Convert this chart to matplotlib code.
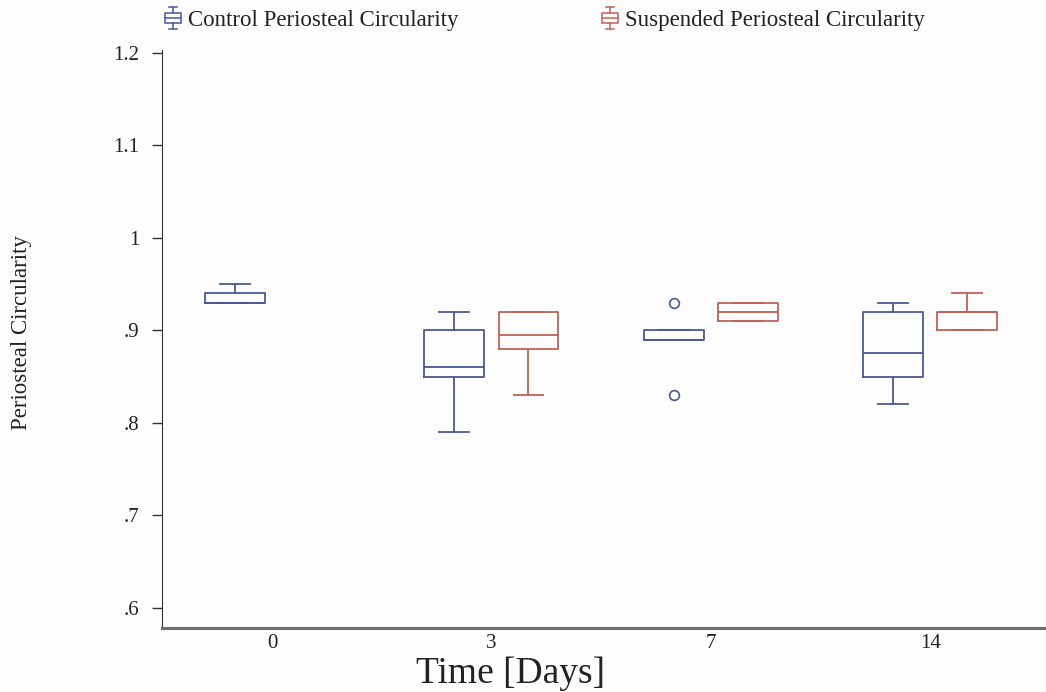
import matplotlib
matplotlib.use("Agg")
import matplotlib.pyplot as plt
from matplotlib.legend_handler import HandlerBase
from matplotlib.lines import Line2D
from matplotlib.patches import Rectangle

plt.rcParams['font.family'] = ['Liberation Serif', 'DejaVu Serif']

days = ['0', '3', '7', '14']
# five-number summaries per day: (whislo, q1, med, q3, whishi)
control_stats = [
    (0.93, 0.93, 0.93, 0.94, 0.95),
    (0.79, 0.85, 0.86, 0.90, 0.92),
    (0.89, 0.89, 0.89, 0.90, 0.90),
    (0.82, 0.85, 0.875, 0.92, 0.93),
]
control_fliers = [[], [], [0.93, 0.83], []]
suspended_stats = [
    None,
    (0.83, 0.88, 0.895, 0.92, 0.92),
    (0.91, 0.91, 0.92, 0.93, 0.93),
    (0.90, 0.90, 0.92, 0.92, 0.94),
]
suspended_fliers = [[], [], [], []]

yticks = [0.6, 0.7, 0.8, 0.9, 1.0, 1.1, 1.2]
ytick_labels = ['.6', '.7', '.8', '.9', '1', '1.1', '1.2']

blue = '#4b5896'
red = '#c0605a'


def to_bxp(stats, fliers):
    out = []
    for s, f in zip(stats, fliers):
        if s is None:
            out.append(None)
            continue
        lo, q1, med, q3, hi = s
        out.append(dict(whislo=lo, q1=q1, med=med, q3=q3, whishi=hi, fliers=f))
    return out


fig = plt.figure(figsize=(10.46, 6.92), dpi=100)
fig.patch.set_facecolor('#fdfdfd')
ax = fig.add_axes([0.155, 0.0925, 0.845, 0.835])
ax.set_facecolor('#fdfdfd')

offset = 0.169
width = 0.273
for series, fl, color, sign in [(control_stats, control_fliers, blue, -1),
                                (suspended_stats, suspended_fliers, red, 1)]:
    items = to_bxp(series, fl)
    pos = [i + sign * offset for i, it in enumerate(items) if it is not None]
    data = [it for it in items if it is not None]
    ax.bxp(data, positions=pos, widths=width, showfliers=True,
           boxprops=dict(color=color, linewidth=1.3),
           medianprops=dict(color=color, linewidth=1.3),
           whiskerprops=dict(color=color, linewidth=1.3),
           capprops=dict(color=color, linewidth=1.3),
           capwidths=width * 0.5,
           flierprops=dict(marker='o', markersize=7, markerfacecolor='none',
                           markeredgecolor=color, markeredgewidth=1.2),
           manage_ticks=False)

ax.set_xlim(-0.501, 3.528)
ax.set_ylim(0.578, 1.203)
ax.set_xticks(range(len(days)))
ax.set_xticklabels(days, fontsize=15, color='#222222')
ax.set_yticks(yticks)
ax.set_yticklabels(ytick_labels, fontsize=15, color='#222222')
ax.tick_params(axis='x', length=0, pad=4)
ax.tick_params(axis='y', length=7.5, width=1, direction='out', color='#333333', pad=9)
for s in ['top', 'right']:
    ax.spines[s].set_visible(False)
ax.spines['left'].set_color('#333333')
ax.spines['bottom'].set_color('#6e6e6e')
ax.spines['bottom'].set_linewidth(2.2)

ax.set_xlabel('Time [Days]', fontsize=27, color='#222222')
ax.xaxis.set_label_coords(0.394, -0.050)
ax.xaxis.label.set_verticalalignment('top')
ax.set_ylabel('Periosteal Circularity', fontsize=16.5, color='#222222')
ax.yaxis.set_label_coords(-0.147, 0.512)


class BoxGlyph(HandlerBase):
    def create_artists(self, legend, orig_handle, xdescent, ydescent,
                       width, height, fontsize, trans):
        c = orig_handle.get_color()
        w = height * 1.0
        x0 = (width - w) / 2 - xdescent
        y0 = -ydescent
        arts = [
            Rectangle((x0, y0 + height * 0.2), w, height * 0.6, fill=False,
                      edgecolor=c, linewidth=1.1, transform=trans),
            Line2D([x0, x0 + w], [y0 + height * 0.5] * 2, color=c, lw=1.1, transform=trans),
            Line2D([x0 + w / 2] * 2, [y0 - height * 0.2, y0 + height * 0.2], color=c, lw=1.1, transform=trans),
            Line2D([x0 + w / 2] * 2, [y0 + height * 0.8, y0 + height * 1.2], color=c, lw=1.1, transform=trans),
            Line2D([x0 + w * 0.25, x0 + w * 0.75], [y0 - height * 0.2] * 2, color=c, lw=1.1, transform=trans),
            Line2D([x0 + w * 0.25, x0 + w * 0.75], [y0 + height * 1.2] * 2, color=c, lw=1.1, transform=trans),
        ]
        return arts


h1 = Line2D([], [], color=blue)
h2 = Line2D([], [], color=red)
fig.legend([h1, h2], ['Control Periosteal Circularity', 'Suspended Periosteal Circularity'],
           handler_map={Line2D: BoxGlyph()}, loc='upper left',
           bbox_to_anchor=(0.1355, 1.015), ncol=2, frameon=False, fontsize=16.5,
           handlelength=0.9, handletextpad=0.2, columnspacing=6.2,
           labelcolor='#222222')

fig.savefig('out.png', dpi=100, facecolor=fig.get_facecolor())
